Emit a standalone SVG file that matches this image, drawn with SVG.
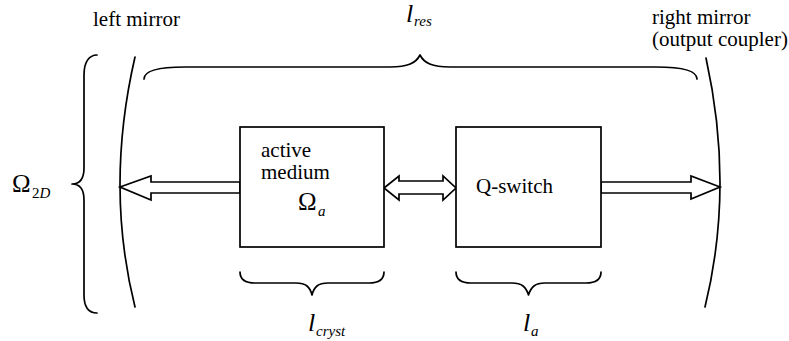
<svg xmlns="http://www.w3.org/2000/svg" width="789" height="341" viewBox="0 0 789 341">
<style>
.ln{fill:none;stroke:#000;stroke-width:1.7;stroke-linecap:round;stroke-linejoin:round}
.box{fill:#fff;stroke:#000;stroke-width:1.7}
.arr{fill:#fff;stroke:#000;stroke-width:1.7;stroke-linejoin:miter}
text{font-family:"Liberation Serif","Times New Roman",serif;fill:#000}
.t{font-size:21px}
.m{font-size:25px}
.mi{font-size:26px;font-style:italic}
.sub{font-size:15px;font-style:italic}
</style>
<rect width="789" height="341" fill="#fff"/>
<g id="connectors">
<polygon class="arr" points="120,187 151,176 151,182 240,182 240,193 151,193 151,200"/>
<polygon class="arr" points="384,188 399,176 399,181 443,181 443,176 456,188 443,200 443,194 399,194 399,200"/>
<polygon class="arr" points="601,182 691,182 691,176 720,187 691,199 691,193 601,193"/>
</g>
<g id="left-mirror">
<path class="ln" d="M135,57 Q105,187 135,307"/>
<text class="t" x="93" y="26">left mirror</text>
</g>
<g id="right-mirror">
<path class="ln" d="M706,58 Q734.5,187 705,307"/>
<text class="t" x="652" y="24">right mirror</text>
<text class="t" x="652" y="46">(output coupler)</text>
</g>
<g id="active-medium">
<rect class="box" x="240" y="127" width="144" height="120"/>
<text class="t" x="261" y="157">active</text>
<text class="t" x="261" y="179">medium</text>
<text class="m" x="298" y="210">Ω</text>
<text class="sub" x="318" y="216">a</text>
</g>
<g id="q-switch">
<rect class="box" x="456" y="127" width="145" height="120"/>
<text class="t" x="476" y="193">Q-switch</text>
</g>
<g id="brace-res">
<path class="ln" d="M144,79 C144,70 160,67 185,67 L390,67 C408,67 416,63 420,55 C424,63 432,67 450,67 L656,67 C681,67 697,70 697,79"/>
<text class="mi" x="406" y="22">l</text>
<text class="sub" x="414" y="26">res</text>
</g>
<g id="brace-2d">
<path class="ln" d="M97,55 C89,55 84,62 84,75 L84,168 C84,178 80,184 72,184 C80,184 84,190 84,200 L84,295 C84,307 89,313 97,313"/>
<text class="m" x="12" y="192">Ω</text>
<text class="sub" x="32" y="198"><tspan font-style="normal">2</tspan>D</text>
</g>
<g id="brace-cryst">
<path class="ln" d="M240,272 C240,280 245,283 255,283 L296,283 C306,283 310,287 312,295 C314,287 318,283 328,283 L369,283 C379,283 384,280 384,272"/>
<text class="mi" x="308" y="331">l</text>
<text class="sub" x="316" y="336">cryst</text>
</g>
<g id="brace-a">
<path class="ln" d="M456,272 C456,280 461,283 471,283 L512,283 C522,283 526,287 528.5,295 C531,287 535,283 545,283 L586,283 C596,283 601,280 601,272"/>
<text class="mi" x="523" y="331">l</text>
<text class="sub" x="531" y="336">a</text>
</g>
</svg>
